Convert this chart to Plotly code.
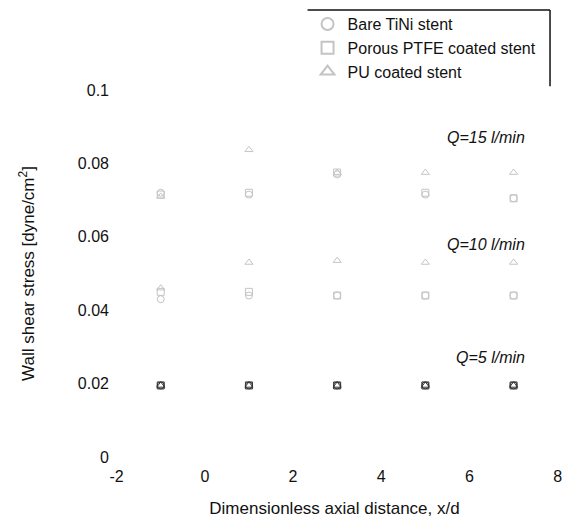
import plotly.graph_objects as go

x_pos = [-1, 1, 3, 5, 7]
stents = ["Bare TiNi stent", "Porous PTFE coated stent", "PU coated stent"]
flow_rates = ["Q=5 l/min", "Q=10 l/min", "Q=15 l/min"]
x_ticks = [-2, 0, 2, 4, 6, 8]
x_tick_text = ["-2", "0", "2", "4", "6", "8"]
y_ticks = [0, 0.02, 0.04, 0.06, 0.08, 0.1]
y_tick_text = ["0", "0.02", "0.04", "0.06", "0.08", "0.1"]

# Wall shear stress [dyne/cm^2] per stent type, per flow rate
bare_q5 = [0.0195, 0.0195, 0.0195, 0.0195, 0.0195]
bare_q10 = [0.043, 0.044, 0.044, 0.044, 0.044]
bare_q15 = [0.072, 0.0715, 0.077, 0.0715, 0.0705]

ptfe_q5 = [0.0195, 0.0195, 0.0195, 0.0195, 0.0195]
ptfe_q10 = [0.045, 0.045, 0.044, 0.044, 0.044]
ptfe_q15 = [0.0715, 0.072, 0.0775, 0.072, 0.0705]

pu_q5 = [0.0195, 0.0195, 0.0195, 0.0195, 0.0195]
pu_q10 = [0.046, 0.053, 0.0535, 0.053, 0.053]
pu_q15 = [0.071, 0.0837, 0.0775, 0.0775, 0.0775]

label_y = [0.027, 0.058, 0.087]

data = {
    "Bare TiNi stent": [bare_q5, bare_q10, bare_q15],
    "Porous PTFE coated stent": [ptfe_q5, ptfe_q10, ptfe_q15],
    "PU coated stent": [pu_q5, pu_q10, pu_q15],
}
symbols = {"Bare TiNi stent": "circle-open",
           "Porous PTFE coated stent": "square-open",
           "PU coated stent": "triangle-up-open"}
q_colors = ["#333333", "#c4c4c4", "#c4c4c4"]
q_sizes = [7, 7, 7]

FONT = "Liberation Sans, Arial, sans-serif"
fig = go.Figure()
for name in stents:
    for qi, ys in enumerate(data[name]):
        fig.add_trace(go.Scatter(
            x=x_pos, y=ys, mode="markers", name=name,
            legendgroup=name, showlegend=(qi == 1),
            marker=dict(symbol=symbols[name], size=q_sizes[qi], color=q_colors[qi],
                        line=dict(width=1, color=q_colors[qi])),
        ))

for lab, yv in zip(flow_rates, label_y):
    fig.add_annotation(x=7.3, y=yv, xref="x", yref="y", text="<i>" + lab + "</i>",
                       showarrow=False, xanchor="right",
                       font=dict(family=FONT, size=16, color="#111111"))

fig.update_layout(
    width=562, height=522,
    margin=dict(l=110, r=3, t=90, b=65),
    paper_bgcolor="white", plot_bgcolor="white",
    font=dict(family=FONT, size=16, color="#111111"),
    showlegend=True,
    legend=dict(x=0.44, y=1.226, xanchor="left", yanchor="top",
                font=dict(family=FONT, size=16, color="#111111"),
                bgcolor="rgba(0,0,0,0)", borderwidth=0, tracegroupgap=0,
                itemsizing="constant"),
    xaxis=dict(range=[-2.15, 8.03], tickvals=x_ticks, ticktext=x_tick_text,
               showgrid=False, zeroline=False, showline=False, ticks="",
               ticklabelstandoff=8, ticklabeloverflow="allow", automargin=False,
               tickfont=dict(family=FONT, size=16),
               title=dict(text="Dimensionless axial distance, x/d", standoff=18,
                          font=dict(family=FONT, size=17))),
    yaxis=dict(range=[0, 0.1], tickvals=y_ticks, ticktext=y_tick_text,
               showgrid=False, zeroline=False, showline=False, ticks="",
               automargin=False, tickfont=dict(family=FONT, size=16),
               title=dict(text="Wall shear stress [dyne/cm<sup>2</sup>]", standoff=38,
                          font=dict(family=FONT, size=17))),
)

fig.add_shape(type="line", xref="paper", yref="paper", x0=0.44, x1=0.98,
              y0=1.218, y1=1.218, line=dict(color="#111111", width=1.5))
fig.add_shape(type="line", xref="paper", yref="paper", x0=0.98, x1=0.98,
              y0=1.218, y1=1.01, line=dict(color="#111111", width=1.5))

fig.write_html("out.html")
